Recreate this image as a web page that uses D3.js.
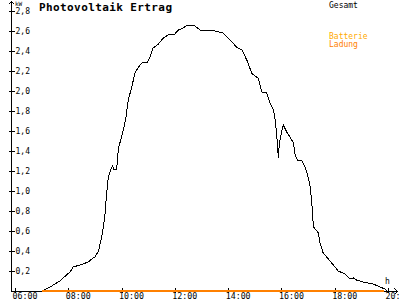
<!DOCTYPE html>
<html>
<head>
<meta charset="utf-8">
<script src="https://cdn.jsdelivr.net/npm/d3@7"></script>
<style>
  body { margin: 0; background: #fff; }
  svg { display: block; }
  text { font-family: "DejaVu Sans Mono", monospace; }
</style>
</head>
<body>
<script>
'use strict';

// chart data
const pvTimes = ["07:00","07:19","07:41","07:56","08:04","08:11","08:26","08:45","08:53","09:00",
  "09:08","09:15","09:19","09:23","09:26","09:30","09:35","09:40","09:43","09:49",
  "09:53","10:00","10:04","10:10","10:15","10:23","10:30","10:38","10:48","10:57",
  "11:04","11:11","11:23","11:34","11:49","12:00","12:08","12:19","12:28","12:45",
  "12:57","13:12","13:30","13:49","14:04","14:19","14:31","14:42","14:53","15:00",
  "15:08","15:16","15:27","15:34","15:42","15:45","15:49","15:53","15:55","15:58",
  "16:04","16:12","16:19","16:27","16:31","16:36","16:46","16:53","16:59","17:04",
  "17:08","17:12","17:18","17:23","17:27","17:34","17:42","17:53","18:08","18:23",
  "18:34","18:42","18:49","19:04","19:27","19:42","19:53","19:57"];
const pvValues = [0.00,0.04,0.10,0.16,0.19,0.24,0.26,0.29,0.32,0.34,
  0.40,0.54,0.64,0.78,0.96,1.13,1.21,1.25,1.21,1.22,
  1.43,1.54,1.61,1.74,1.91,2.04,2.18,2.24,2.29,2.28,
  2.34,2.43,2.47,2.53,2.57,2.57,2.61,2.63,2.66,2.65,
  2.61,2.61,2.60,2.58,2.51,2.44,2.41,2.31,2.18,2.15,
  2.13,1.99,1.98,1.88,1.81,1.74,1.59,1.33,1.46,1.54,
  1.66,1.59,1.54,1.48,1.36,1.31,1.30,1.24,1.16,1.06,
  0.91,0.64,0.61,0.58,0.48,0.38,0.34,0.28,0.20,0.17,
  0.12,0.13,0.11,0.09,0.07,0.04,0.02,0.00];

const batteryTimes = ["07:00","19:51"];
const batteryValues = [0, 0];

const xTickLabels = ["06:00","08:00","10:00","12:00","14:00","16:00","18:00","20:00"];
const yTickValues = [0.2,0.4,0.6,0.8,1.0,1.2,1.4,1.6,1.8,2.0,2.2,2.4,2.6,2.8];

const title = "Photovoltaik Ertrag";
const legendItems = [
  { lines: ["Gesamt"], colors: ["#000000"], y: 7.5 },
  { lines: ["Batterie", "Ladung"], colors: ["#ffaa00", "#ff8000"], y: 38.5 }
];

(function() {
  const W = 400, H = 300;
  const parseTime = d3.timeParse("%H:%M");
  const deFormat = d3.formatLocale({
    decimal: ",", thousands: ".", grouping: [3], currency: ["", "€"]
  }).format(".1f");

  const svg = d3.select('body')
    .append('svg')
    .attr('width', W)
    .attr('height', H)
    .style('background', '#fff');

  // scales
  const xScale = d3.scaleTime()
    .domain([parseTime("06:00"), parseTime("20:00")])
    .range([15, 388]);
  const yScale = d3.scaleLinear()
    .domain([0, 2.8])
    .range([291, 11]);

  const axisX0 = 11;  // where the y axis sits

  // pv line
  const pvData = pvTimes.map((t, i) => ({ t: parseTime(t), v: pvValues[i] }));
  const line = d3.line()
    .x(d => xScale(d.t))
    .y(d => yScale(d.v));

  // axes lines with arrows
  svg.append('path')
    .attr('d', `M${axisX0 + 0.5},291 V1.5 M8.5,4.5 L${axisX0 + 0.5},1.5 L14.5,4.5`)
    .attr('fill', 'none')
    .attr('stroke', '#000')
    .attr('stroke-width', 1)
    .style('shape-rendering', 'crispEdges');
  svg.append('path')
    .attr('d', `M${axisX0},291.5 H397.5 M394.5,288.5 L397.5,291.5 L394.5,294.5`)
    .attr('fill', 'none')
    .attr('stroke', '#000')
    .attr('stroke-width', 1)
    .style('shape-rendering', 'crispEdges');

  // x axis ticks and labels
  const xAxis = d3.axisBottom(xScale)
    .tickValues(xTickLabels.map(parseTime))
    .tickFormat(d3.timeFormat("%H:%M"))
    .tickSizeOuter(0);
  const gx = svg.append('g')
    .attr('transform', 'translate(0, 291)')
    .call(xAxis);
  gx.select('.domain').remove();
  gx.selectAll('.tick line')
    .attr('y1', -3).attr('y2', 2)
    .attr('stroke', '#000')
    .style('shape-rendering', 'crispEdges');
  gx.selectAll('.tick text')
    .attr('x', -3).attr('y', 7.5).attr('dy', 0)
    .attr('text-anchor', 'start')
    .attr('fill', '#000')
    .style('font-family', '"DejaVu Sans Mono", monospace')
    .style('font-size', '8.3px');

  // y axis ticks and labels, labels sit right of the axis
  const yAxis = d3.axisRight(yScale)
    .tickValues(yTickValues)
    .tickFormat(deFormat)
    .tickSizeOuter(0);
  const gy = svg.append('g')
    .attr('transform', `translate(${axisX0 + 0.5}, 0)`)
    .call(yAxis);
  gy.select('.domain').remove();
  gy.selectAll('.tick line')
    .attr('x1', -3).attr('x2', 3)
    .attr('stroke', '#000')
    .style('shape-rendering', 'crispEdges');
  gy.selectAll('.tick text')
    .attr('x', 4).attr('dy', '0.35em')
    .attr('text-anchor', 'start')
    .attr('fill', '#000')
    .style('font-family', '"DejaVu Sans Mono", monospace')
    .style('font-size', '8px');

  // axis units
  svg.append('text')
    .attr('x', 15).attr('y', 6)
    .style('font-size', '6px')
    .text('kW');
  svg.append('text')
    .attr('x', 385).attr('y', 284)
    .style('font-size', '8px')
    .text('h');

  // series
  svg.append('path')
    .datum(pvData)
    .attr('d', line)
    .attr('fill', 'none')
    .attr('stroke', '#000')
    .attr('stroke-width', 1)
    .style('shape-rendering', 'crispEdges');

  const batData = batteryTimes.map((t, i) => ({ t: parseTime(t), v: batteryValues[i] }));
  svg.append('path')
    .datum(batData)
    .attr('d', line)
    .attr('fill', 'none')
    .attr('stroke', '#ff8000')
    .attr('stroke-width', 1.2)
    .style('shape-rendering', 'crispEdges');

  // title
  svg.append('text')
    .attr('x', 39).attr('y', 11)
    .attr('textLength', 133)
    .style('font-size', '11px')
    .style('font-weight', 'bold')
    .text(title);

  // legend
  legendItems.forEach(item => {
    item.lines.forEach((l, i) => {
      svg.append('text')
        .attr('x', 329)
        .attr('y', item.y + i * 8)
        .attr('fill', item.colors[i])
        .style('font-size', '8px')
        .text(l);
    });
  });
})();
</script>
</body>
</html>
